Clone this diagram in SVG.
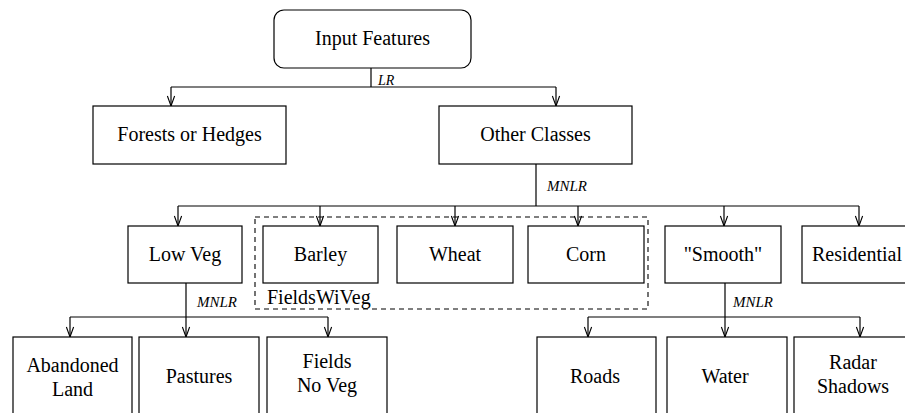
<svg xmlns="http://www.w3.org/2000/svg" width="905" height="413" viewBox="0 0 905 413">
<style>
.box{fill:#fff;stroke:#000;stroke-width:1.2}
.t{font-family:"Liberation Serif","Times New Roman",serif;font-size:20px;fill:#000;text-anchor:middle}
.lbl{font-family:"Liberation Serif","Times New Roman",serif;font-style:italic;font-size:15px;fill:#000}
.c{fill:none;stroke:#000;stroke-width:1.2}
.a{fill:none;stroke:#000;stroke-width:1.2;marker-end:url(#arr)}
.grp{fill:none;stroke:#000;stroke-width:1.1;stroke-dasharray:5,4}
</style>
<defs>
<marker id="arr" viewBox="-11 -6 12 12" refX="0" refY="0" markerWidth="12" markerHeight="12" markerUnits="userSpaceOnUse" orient="auto">
<path d="M-10,-3.6 L0,0 L-10,3.6" fill="none" stroke="#000" stroke-width="1.1"/>
</marker>
</defs>
<rect width="905" height="413" fill="#fff"/>

<g id="connectors">
<path class="c" d="M371,68 V87 M171,87 H556"/>
<path class="a" d="M171,87 V106"/>
<path class="a" d="M556,87 V106"/>
<text class="lbl" x="378" y="85" style="font-size:14px">LR</text>
<path class="c" d="M536,164 V206 M178,206 H859"/>
<path class="a" d="M178,206 V226"/>
<path class="a" d="M320,206 V226"/>
<path class="a" d="M455,206 V226"/>
<path class="a" d="M578,206 V226"/>
<path class="a" d="M724,206 V226"/>
<path class="a" d="M859,206 V226"/>
<text class="lbl" x="547" y="191">MNLR</text>
<path class="c" d="M186,283 V317 M70,317 H328"/>
<path class="a" d="M70,317 V337"/>
<path class="a" d="M186,317 V337"/>
<path class="a" d="M328,317 V337"/>
<text class="lbl" x="197" y="307">MNLR</text>
<path class="c" d="M725,283 V317 M588,317 H860"/>
<path class="a" d="M588,317 V337"/>
<path class="a" d="M725,317 V337"/>
<path class="a" d="M860,317 V337"/>
<text class="lbl" x="733" y="307">MNLR</text>
</g>

<g id="fieldswiveg">
<rect class="grp" x="255" y="217" width="393" height="92"/>
<text class="t" x="267" y="304" style="text-anchor:start">FieldsWiVeg</text>
</g>

<g id="input-features">
<rect class="box" x="274" y="10" width="197" height="58" rx="10" ry="10"/>
<text class="t" x="372.5" y="45">Input Features</text>
</g>
<g id="forests">
<rect class="box" x="93" y="106" width="193" height="58"/>
<text class="t" x="189.5" y="141">Forests or Hedges</text>
</g>
<g id="other-classes">
<rect class="box" x="439" y="106" width="193" height="58"/>
<text class="t" x="535.5" y="141">Other Classes</text>
</g>

<g id="low-veg">
<rect class="box" x="128" y="226" width="114" height="57"/>
<text class="t" x="185" y="261">Low Veg</text>
</g>
<g id="barley">
<rect class="box" x="263" y="226" width="115" height="57"/>
<text class="t" x="320.5" y="261">Barley</text>
</g>
<g id="wheat">
<rect class="box" x="397" y="226" width="116" height="57"/>
<text class="t" x="455" y="261">Wheat</text>
</g>
<g id="corn">
<rect class="box" x="528" y="226" width="116" height="57"/>
<text class="t" x="586" y="261">Corn</text>
</g>
<g id="smooth">
<rect class="box" x="665" y="226" width="116" height="57"/>
<text class="t" x="723" y="261">"Smooth"</text>
</g>
<g id="residential">
<rect class="box" x="802" y="226" width="116" height="57"/>
<text class="t" x="857" y="261">Residential</text>
</g>

<g id="abandoned-land">
<rect class="box" x="13" y="337" width="119" height="90"/>
<text class="t" x="72.5" y="372">Abandoned</text>
<text class="t" x="72.5" y="396">Land</text>
</g>
<g id="pastures">
<rect class="box" x="139" y="337" width="120" height="90"/>
<text class="t" x="199" y="383">Pastures</text>
</g>
<g id="fields-no-veg">
<rect class="box" x="267" y="337" width="120" height="90"/>
<text class="t" x="327" y="368">Fields</text>
<text class="t" x="327" y="392">No Veg</text>
</g>
<g id="roads">
<rect class="box" x="537" y="337" width="119" height="90"/>
<text class="t" x="595" y="383">Roads</text>
</g>
<g id="water">
<rect class="box" x="667" y="337" width="120" height="90"/>
<text class="t" x="725" y="383">Water</text>
</g>
<g id="radar-shadows">
<rect class="box" x="794" y="337" width="119" height="90"/>
<text class="t" x="853" y="369">Radar</text>
<text class="t" x="853" y="393">Shadows</text>
</g>
</svg>
